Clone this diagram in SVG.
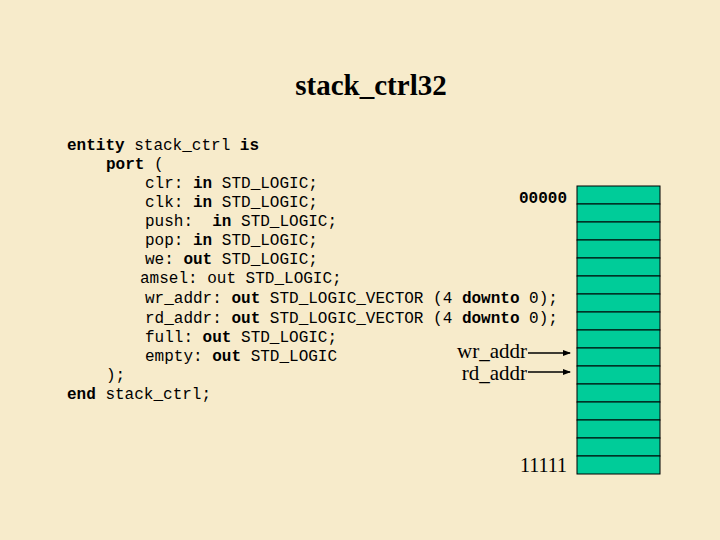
<svg xmlns="http://www.w3.org/2000/svg" width="720" height="540" viewBox="0 0 720 540">
<style>
.c{font-family:"Liberation Mono","Courier New",monospace;font-size:16px;fill:#000;white-space:pre}
.b{font-weight:bold}
.t{font-family:"Liberation Serif","Times New Roman",serif;fill:#000}
.cell{fill:#00CC99;stroke:#000;stroke-width:1}
</style>
<defs>
<marker id="ah" markerWidth="8" markerHeight="6" refX="7" refY="3" orient="auto" markerUnits="userSpaceOnUse"><path d="M0,0 L8,3 L0,6 z" fill="#000"/></marker>
</defs>
<rect width="720" height="540" fill="#F7EBCB"/>
<text class="t" x="371" y="95" font-size="29" font-weight="bold" text-anchor="middle">stack_ctrl32</text>
<g id="code">
<text class="c" x="67" y="150"><tspan class="b">entity</tspan> stack_ctrl <tspan class="b">is</tspan></text>
<text class="c" x="106" y="169"><tspan class="b">port</tspan> (</text>
<text class="c" x="145" y="188">clr: <tspan class="b">in</tspan> STD_LOGIC;</text>
<text class="c" x="145" y="207">clk: <tspan class="b">in</tspan> STD_LOGIC;</text>
<text class="c" x="145" y="226">push:  <tspan class="b">in</tspan> STD_LOGIC;</text>
<text class="c" x="145" y="245">pop: <tspan class="b">in</tspan> STD_LOGIC;</text>
<text class="c" x="145" y="264">we: <tspan class="b">out</tspan> STD_LOGIC;</text>
<text class="c" x="140" y="283">amsel: out STD_LOGIC;</text>
<text class="c" x="145" y="303">wr_addr: <tspan class="b">out</tspan> STD_LOGIC_VECTOR (4 <tspan class="b">downto</tspan> 0);</text>
<text class="c" x="145" y="323">rd_addr: <tspan class="b">out</tspan> STD_LOGIC_VECTOR (4 <tspan class="b">downto</tspan> 0);</text>
<text class="c" x="145" y="342">full: <tspan class="b">out</tspan> STD_LOGIC;</text>
<text class="c" x="145" y="361">empty: <tspan class="b">out</tspan> STD_LOGIC</text>
<text class="c" x="106" y="380">);</text>
<text class="c" x="67" y="399"><tspan class="b">end</tspan> stack_ctrl;</text>
</g>
<g id="stack">
<rect class="cell" x="577" y="186" width="83" height="18"/>
<rect class="cell" x="577" y="204" width="83" height="18"/>
<rect class="cell" x="577" y="222" width="83" height="18"/>
<rect class="cell" x="577" y="240" width="83" height="18"/>
<rect class="cell" x="577" y="258" width="83" height="18"/>
<rect class="cell" x="577" y="276" width="83" height="18"/>
<rect class="cell" x="577" y="294" width="83" height="18"/>
<rect class="cell" x="577" y="312" width="83" height="18"/>
<rect class="cell" x="577" y="330" width="83" height="18"/>
<rect class="cell" x="577" y="348" width="83" height="18"/>
<rect class="cell" x="577" y="366" width="83" height="18"/>
<rect class="cell" x="577" y="384" width="83" height="18"/>
<rect class="cell" x="577" y="402" width="83" height="18"/>
<rect class="cell" x="577" y="420" width="83" height="18"/>
<rect class="cell" x="577" y="438" width="83" height="18"/>
<rect class="cell" x="577" y="456" width="83" height="18"/>
<text class="c b" x="567" y="203" text-anchor="end">00000</text>
<text class="t" x="567" y="472" font-size="20" text-anchor="end">11111</text>
</g>
<g id="wr_addr"><text class="t" x="527" y="358" font-size="21" text-anchor="end">wr_addr</text></g>
<g id="rd_addr"><text class="t" x="527" y="380" font-size="21" text-anchor="end">rd_addr</text></g>
<g id="connectors" stroke="#000" stroke-width="1.5">
<line x1="528" y1="353" x2="570" y2="353" marker-end="url(#ah)"/>
<line x1="528" y1="372" x2="570" y2="372" marker-end="url(#ah)"/>
</g>
</svg>
